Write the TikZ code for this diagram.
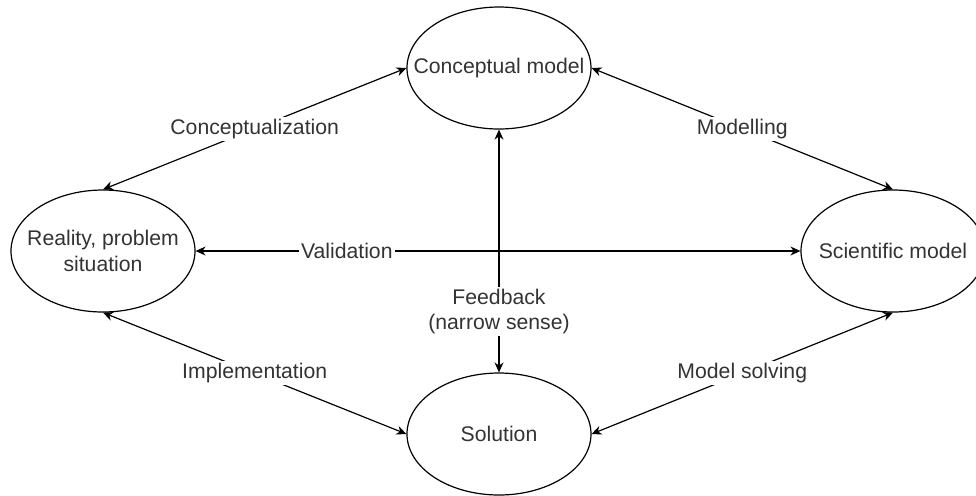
\documentclass[tikz,border=0pt]{standalone}
\usepackage{fontspec}
\setmainfont{Liberation Sans}
\usetikzlibrary{arrows.meta,shapes.geometric}
\tikzset{
    base font/.style = {font=\fontsize{10.6pt}{12.7pt}\selectfont, text=black!80},
    model/.style     = {ellipse, draw, line width=0.6pt, minimum width=92pt, minimum height=61pt, inner sep=0pt},
    model text/.style = {base font, inner sep=0pt, align=center},
    link/.style      = {{Stealth[length=5pt,width=4.5pt]}-{Stealth[length=5pt,width=4.5pt]}, line width=0.6pt},
    link label/.style = {base font, fill=white, inner sep=1pt, align=center}
}
\begin{document}
\begin{tikzpicture}[x=0.5pt,y=-0.5pt]
	\useasboundingbox (0,0) rectangle (976,495);
	% the four models
	\node[model] (conceptual) at (499,68) {};
	\node[model] (reality) at (103,251) {};
	\node[model] (scientific) at (893,251) {};
	\node[model] (solution) at (499,434) {};
	\node[model text] (conceptual text) at (conceptual) {Conceptual model};
	\node[model text] (reality text) at (reality) {Reality, problem\\situation};
	\node[model text] (scientific text) at (scientific) {Scientific model};
	\node[model text] (solution text) at (solution) {Solution};
	% links between them
	\draw[link] (reality.north) -- node[link label] {Conceptualization} (conceptual.west);
	\draw[link] (conceptual.east) -- node[link label] {Modelling} (scientific.north);
	\draw[link] (reality.east) -- node[link label, pos=0.25] {Validation} (scientific.west);
	\draw[link] (conceptual.south) -- node[link label, pos=0.75] {Feedback\\(narrow sense)} (solution.north);
	\draw[link] (reality.south) -- node[link label] {Implementation} (solution.west);
	\draw[link] (scientific.south) -- node[link label] {Model solving} (solution.east);
\end{tikzpicture}
\end{document}
